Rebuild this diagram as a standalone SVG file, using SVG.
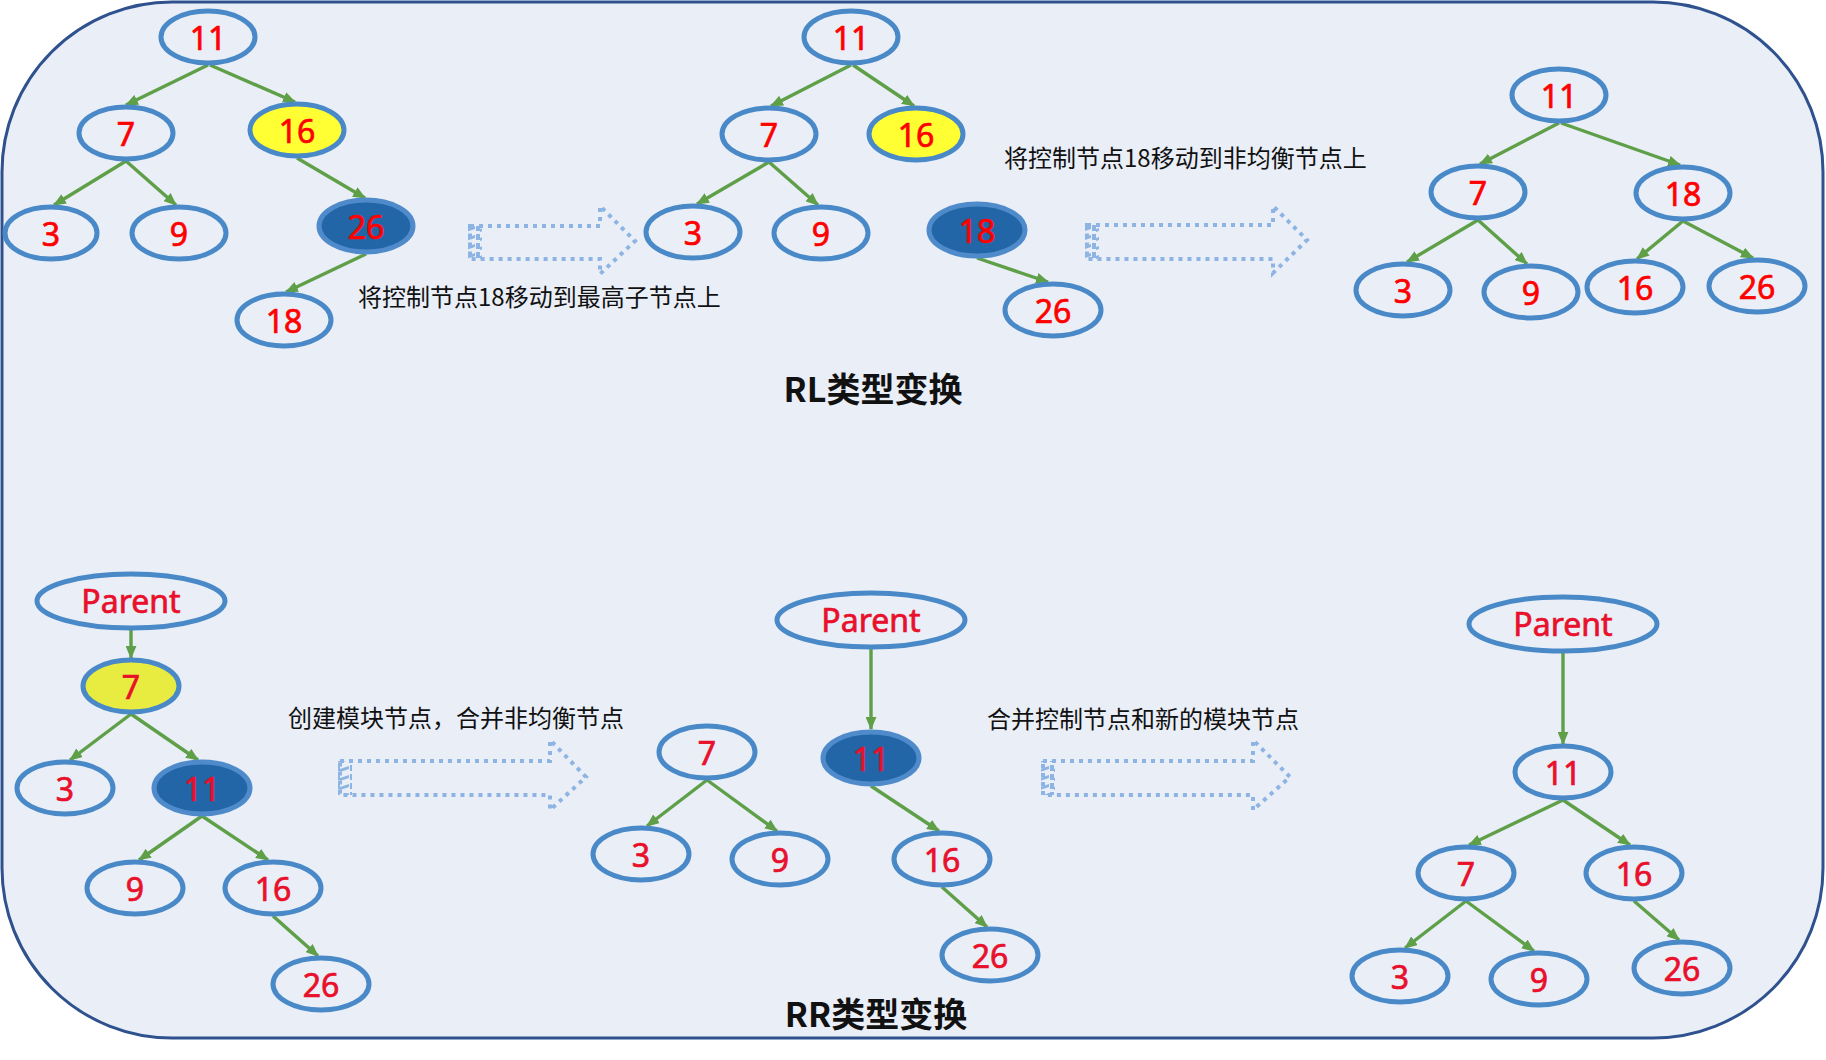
<svg xmlns="http://www.w3.org/2000/svg" width="1826" height="1060" viewBox="0 0 1826 1060">
<defs>
<style>
.n{fill:none;stroke:#4A89C8;stroke-width:5}
.y1{fill:#FFFF33;stroke:#4A89C8;stroke-width:5}
.y2{fill:#E8EC40;stroke:#4A89C8;stroke-width:5}
.d{fill:#2366A8;stroke:#4F8BCB;stroke-width:5}
.t1{font-family:"Noto Sans","Liberation Sans",sans-serif;font-size:32px;fill:#FF0000;stroke:#FF0000;stroke-width:0.7;text-anchor:middle}
.t2{font-family:"Noto Sans","Liberation Sans",sans-serif;font-size:32px;fill:#E8102A;stroke:#E8102A;stroke-width:0.7;text-anchor:middle}
.e line{stroke:#5E9F48;stroke-width:3.4;marker-end:url(#ah)}
.cap{font-family:"Noto Sans CJK SC","Noto Sans",sans-serif;font-size:24px;fill:#111}
.ttl{font-family:"Noto Sans CJK SC","Noto Sans",sans-serif;font-size:34px;font-weight:bold;fill:#111;text-anchor:middle}
.ar{fill:none;stroke:#8DB4E2;stroke-width:4;stroke-dasharray:4 5}
.hb{fill:url(#hatch)}
</style>
<marker id="ah" viewBox="0 0 12 10" refX="11" refY="5" markerWidth="13" markerHeight="11" markerUnits="userSpaceOnUse" orient="auto">
<path d="M0,0 L12,5 L0,10 Z" fill="#5E9F48"/>
</marker>
<pattern id="hatch" width="14" height="9" patternUnits="userSpaceOnUse">
<rect x="0" y="0" width="4" height="6" fill="#8DB4E2"/>
<path d="M4,4 L13,1 L13,4 L4,7 Z" fill="#8DB4E2"/>
</pattern>
</defs>

<rect id="frame" x="2" y="2" width="1821" height="1036" rx="170" ry="170" fill="#E9EEF7" stroke="#2F528F" stroke-width="3"/>

<g id="connectors" class="e">
<line x1="208" y1="65" x2="126" y2="105"/>
<line x1="210" y1="65" x2="295" y2="102"/>
<line x1="126" y1="161" x2="54" y2="205"/>
<line x1="126" y1="161" x2="176" y2="205"/>
<line x1="297" y1="158" x2="365" y2="198"/>
<line x1="366" y1="254" x2="286" y2="292"/>

<line x1="851" y1="65" x2="771" y2="106"/>
<line x1="853" y1="65" x2="914" y2="106"/>
<line x1="769" y1="162" x2="697" y2="204"/>
<line x1="769" y1="162" x2="818" y2="205"/>
<line x1="977" y1="258" x2="1048" y2="282"/>

<line x1="1559" y1="123" x2="1480" y2="164"/>
<line x1="1561" y1="123" x2="1680" y2="165"/>
<line x1="1478" y1="220" x2="1407" y2="262"/>
<line x1="1478" y1="220" x2="1527" y2="264"/>
<line x1="1683" y1="221" x2="1637" y2="259"/>
<line x1="1683" y1="221" x2="1753" y2="258"/>

<line x1="131" y1="629" x2="131" y2="658"/>
<line x1="131" y1="714" x2="70" y2="760"/>
<line x1="131" y1="714" x2="198" y2="760"/>
<line x1="202" y1="816" x2="139" y2="860"/>
<line x1="202" y1="816" x2="268" y2="860"/>
<line x1="273" y1="916" x2="318" y2="956"/>

<line x1="871" y1="648" x2="871" y2="729"/>
<line x1="707" y1="780" x2="647" y2="826"/>
<line x1="707" y1="780" x2="777" y2="831"/>
<line x1="871" y1="786" x2="939" y2="831"/>
<line x1="942" y1="887" x2="987" y2="927"/>

<line x1="1563" y1="652" x2="1563" y2="744"/>
<line x1="1563" y1="800" x2="1469" y2="845"/>
<line x1="1563" y1="800" x2="1630" y2="845"/>
<line x1="1466" y1="901" x2="1405" y2="948"/>
<line x1="1466" y1="901" x2="1534" y2="951"/>
<line x1="1634" y1="901" x2="1679" y2="940"/>
</g>

<g id="arrow1"><path class="ar" d="M470,226 H600 V206 L635,241 L600,274 V259 H470 Z"/><rect class="hb" x="468" y="226" width="14" height="33"/></g>
<g id="arrow2"><path class="ar" d="M1087,225 H1273 V206 L1307,240 L1273,273 V259 H1087 Z"/><rect class="hb" x="1085" y="225" width="14" height="34"/></g>
<g id="arrow3"><path class="ar" d="M340,761 H550 V740 L586,777 L550,810 V795 H340 Z"/><rect class="hb" x="338" y="761" width="14" height="34"/></g>
<g id="arrow4"><path class="ar" d="M1043,761 H1253 V740 L1290,777 L1253,810 V795 H1043 Z"/><rect class="hb" x="1041" y="761" width="14" height="34"/></g>

<g id="a11"><ellipse class="n" cx="208" cy="37" rx="47" ry="26"/><text class="t1" x="208" y="50">11</text></g>
<g id="a7"><ellipse class="n" cx="126" cy="133" rx="47" ry="26"/><text class="t1" x="126" y="146">7</text></g>
<g id="a16"><ellipse class="y1" cx="297" cy="130" rx="47" ry="26"/><text class="t1" x="297" y="143">16</text></g>
<g id="a3"><ellipse class="n" cx="51" cy="233" rx="46" ry="26"/><text class="t1" x="51" y="246">3</text></g>
<g id="a9"><ellipse class="n" cx="179" cy="233" rx="47" ry="26"/><text class="t1" x="179" y="246">9</text></g>
<g id="a26"><ellipse class="d" cx="366" cy="226" rx="47" ry="26"/><text class="t1" x="366" y="239">26</text></g>
<g id="a18"><ellipse class="n" cx="284" cy="320" rx="47" ry="26"/><text class="t1" x="284" y="333">18</text></g>

<g id="b11"><ellipse class="n" cx="851" cy="37" rx="47" ry="26"/><text class="t1" x="851" y="50">11</text></g>
<g id="b7"><ellipse class="n" cx="769" cy="134" rx="47" ry="26"/><text class="t1" x="769" y="147">7</text></g>
<g id="b16"><ellipse class="y1" cx="916" cy="134" rx="47" ry="26"/><text class="t1" x="916" y="147">16</text></g>
<g id="b3"><ellipse class="n" cx="693" cy="232" rx="47" ry="26"/><text class="t1" x="693" y="245">3</text></g>
<g id="b9"><ellipse class="n" cx="821" cy="233" rx="47" ry="26"/><text class="t1" x="821" y="246">9</text></g>
<g id="b18"><ellipse class="d" cx="977" cy="230" rx="48" ry="26"/><text class="t1" x="977" y="243">18</text></g>
<g id="b26"><ellipse class="n" cx="1053" cy="310" rx="48" ry="26"/><text class="t1" x="1053" y="323">26</text></g>

<g id="c11"><ellipse class="n" cx="1559" cy="95" rx="47" ry="26"/><text class="t1" x="1559" y="108">11</text></g>
<g id="c7"><ellipse class="n" cx="1478" cy="192" rx="47" ry="26"/><text class="t1" x="1478" y="205">7</text></g>
<g id="c18"><ellipse class="n" cx="1683" cy="193" rx="47" ry="26"/><text class="t1" x="1683" y="206">18</text></g>
<g id="c3"><ellipse class="n" cx="1403" cy="290" rx="47" ry="26"/><text class="t1" x="1403" y="303">3</text></g>
<g id="c9"><ellipse class="n" cx="1531" cy="292" rx="47" ry="26"/><text class="t1" x="1531" y="305">9</text></g>
<g id="c16"><ellipse class="n" cx="1635" cy="287" rx="48" ry="26"/><text class="t1" x="1635" y="300">16</text></g>
<g id="c26"><ellipse class="n" cx="1757" cy="286" rx="48" ry="26"/><text class="t1" x="1757" y="299">26</text></g>

<g id="dparent"><ellipse class="n" cx="131" cy="601" rx="94" ry="27"/><text class="t2" x="131" y="613">Parent</text></g>
<g id="d7"><ellipse class="y2" cx="131" cy="686" rx="48" ry="26"/><text class="t2" x="131" y="699">7</text></g>
<g id="d3"><ellipse class="n" cx="65" cy="788" rx="48" ry="26"/><text class="t2" x="65" y="801">3</text></g>
<g id="d11"><ellipse class="d" cx="202" cy="788" rx="48" ry="26"/><text class="t2" x="202" y="801">11</text></g>
<g id="d9"><ellipse class="n" cx="135" cy="888" rx="48" ry="26"/><text class="t2" x="135" y="901">9</text></g>
<g id="d16"><ellipse class="n" cx="273" cy="888" rx="48" ry="26"/><text class="t2" x="273" y="901">16</text></g>
<g id="d26"><ellipse class="n" cx="321" cy="984" rx="48" ry="26"/><text class="t2" x="321" y="997">26</text></g>

<g id="eparent"><ellipse class="n" cx="871" cy="620" rx="94" ry="27"/><text class="t2" x="871" y="632">Parent</text></g>
<g id="e7"><ellipse class="n" cx="707" cy="752" rx="48" ry="26"/><text class="t2" x="707" y="765">7</text></g>
<g id="e11"><ellipse class="d" cx="871" cy="758" rx="48" ry="26"/><text class="t2" x="871" y="771">11</text></g>
<g id="e3"><ellipse class="n" cx="641" cy="854" rx="48" ry="26"/><text class="t2" x="641" y="867">3</text></g>
<g id="e9"><ellipse class="n" cx="780" cy="859" rx="48" ry="26"/><text class="t2" x="780" y="872">9</text></g>
<g id="e16"><ellipse class="n" cx="942" cy="859" rx="48" ry="26"/><text class="t2" x="942" y="872">16</text></g>
<g id="e26"><ellipse class="n" cx="990" cy="955" rx="48" ry="26"/><text class="t2" x="990" y="968">26</text></g>

<g id="fparent"><ellipse class="n" cx="1563" cy="624" rx="94" ry="27"/><text class="t2" x="1563" y="636">Parent</text></g>
<g id="f11"><ellipse class="n" cx="1563" cy="772" rx="48" ry="26"/><text class="t2" x="1563" y="785">11</text></g>
<g id="f7"><ellipse class="n" cx="1466" cy="873" rx="48" ry="26"/><text class="t2" x="1466" y="886">7</text></g>
<g id="f16"><ellipse class="n" cx="1634" cy="873" rx="48" ry="26"/><text class="t2" x="1634" y="886">16</text></g>
<g id="f3"><ellipse class="n" cx="1400" cy="976" rx="48" ry="26"/><text class="t2" x="1400" y="989">3</text></g>
<g id="f9"><ellipse class="n" cx="1539" cy="979" rx="48" ry="26"/><text class="t2" x="1539" y="992">9</text></g>
<g id="f26"><ellipse class="n" cx="1682" cy="968" rx="48" ry="26"/><text class="t2" x="1682" y="981">26</text></g>

<g id="labels">
<text class="cap" x="358" y="306">将控制节点18移动到最高子节点上</text>
<text class="cap" x="1004" y="167">将控制节点18移动到非均衡节点上</text>
<text class="cap" x="288" y="727">创建模块节点，合并非均衡节点</text>
<text class="cap" x="987" y="728">合并控制节点和新的模块节点</text>
<text class="ttl" x="873" y="402">RL类型变换</text>
<text class="ttl" x="876" y="1027">RR类型变换</text>
</g>
</svg>
